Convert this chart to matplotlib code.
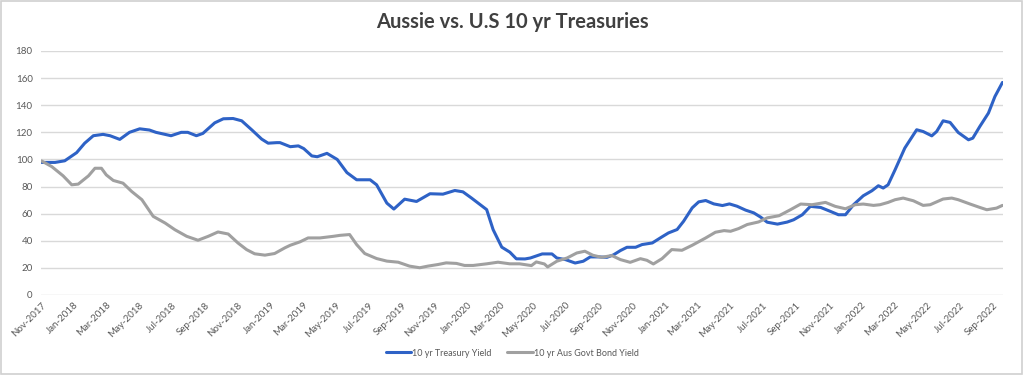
import matplotlib
matplotlib.use('Agg')
from matplotlib import pyplot as plt
import matplotlib.dates as mdates
from matplotlib.patches import Rectangle
import pandas as pd

# values (indexed, start = ~100)
us_dates = ['2017-11-02', '2017-11-27', '2017-12-15', '2018-01-06', '2018-01-21', '2018-02-06',
            '2018-02-24', '2018-03-09', '2018-03-27', '2018-04-14', '2018-05-03', '2018-05-21',
            '2018-06-02', '2018-06-30', '2018-07-19', '2018-07-31', '2018-08-16', '2018-08-28',
            '2018-09-19', '2018-10-05', '2018-10-23', '2018-11-08', '2018-11-27', '2018-12-15',
            '2018-12-27', '2019-01-12', '2019-01-18', '2019-02-06', '2019-02-21', '2019-03-03',
            '2019-03-18', '2019-03-28', '2019-04-15', '2019-05-04', '2019-05-22', '2019-06-09',
            '2019-07-04', '2019-07-16', '2019-08-04', '2019-08-17', '2019-09-06', '2019-09-28',
            '2019-10-23', '2019-11-16', '2019-12-08', '2019-12-23', '2020-01-08', '2020-02-05',
            '2020-02-17', '2020-03-04', '2020-03-19', '2020-03-31', '2020-04-16', '2020-04-26',
            '2020-05-18', '2020-06-05', '2020-06-14', '2020-06-30', '2020-07-18', '2020-08-02',
            '2020-08-15', '2020-08-30', '2020-09-15', '2020-09-27', '2020-10-10', '2020-10-22',
            '2020-11-07', '2020-11-19', '2020-12-08', '2020-12-26', '2021-01-07', '2021-01-23',
            '2021-02-04', '2021-02-20', '2021-03-04', '2021-03-17', '2021-04-01', '2021-04-17',
            '2021-04-30', '2021-05-14', '2021-05-30', '2021-06-14', '2021-06-27', '2021-07-09',
            '2021-07-28', '2021-08-15', '2021-08-27', '2021-09-12', '2021-09-27', '2021-10-16',
            '2021-11-03', '2021-11-18', '2021-12-01', '2021-12-16', '2022-01-03', '2022-01-19',
            '2022-01-31', '2022-02-09', '2022-02-18', '2022-03-03', '2022-03-21', '2022-04-12',
            '2022-04-24', '2022-05-10', '2022-05-19', '2022-05-31', '2022-06-13', '2022-06-28',
            '2022-07-17', '2022-07-25', '2022-08-07', '2022-08-23', '2022-09-04', '2022-09-18']
us_yield = [97.8, 97.8, 99.0, 105.0, 112.0, 117.5,
            118.5, 117.5, 114.8, 120.0, 122.6, 121.7,
            120.0, 117.5, 120.0, 120.0, 117.5, 119.2,
            127.0, 130.0, 130.2, 128.5, 121.7, 115.0,
            112.0, 112.4, 112.4, 109.4, 110.0, 108.0,
            102.6, 102.0, 104.5, 100.0, 90.3, 85.0,
            85.0, 81.3, 67.8, 63.4, 70.7, 69.0,
            74.7, 74.4, 77.1, 76.1, 71.5, 63.0,
            48.2, 35.3, 31.6, 26.7, 26.6, 27.3,
            30.3, 30.3, 27.3, 26.1, 23.6, 24.9,
            28.1, 28.1, 27.8, 29.6, 32.8, 35.2,
            35.2, 37.2, 38.4, 42.9, 45.8, 48.3,
            54.4, 64.3, 68.7, 69.7, 67.2, 66.0,
            67.2, 65.5, 62.6, 60.6, 57.4, 53.7,
            52.3, 53.8, 55.5, 59.2, 65.4, 64.6,
            61.7, 59.2, 59.2, 66.6, 73.2, 76.9,
            80.6, 78.9, 81.3, 92.4, 108.4, 121.9,
            120.6, 117.4, 120.6, 128.5, 127.3, 119.9,
            114.5, 115.7, 124.3, 134.2, 146.4, 156.8]

aus_dates = ['2017-11-02', '2017-11-21', '2017-12-12', '2017-12-28', '2018-01-09', '2018-01-28',
             '2018-02-09', '2018-02-21', '2018-03-02', '2018-03-15', '2018-04-02', '2018-04-18',
             '2018-05-07', '2018-05-28', '2018-06-19', '2018-07-07', '2018-07-29', '2018-08-19',
             '2018-09-07', '2018-09-25', '2018-10-14', '2018-11-01', '2018-11-17', '2018-12-02',
             '2018-12-21', '2019-01-08', '2019-01-27', '2019-02-06', '2019-02-24', '2019-03-11',
             '2019-04-02', '2019-04-27', '2019-05-09', '2019-05-27', '2019-06-09', '2019-06-24',
             '2019-07-16', '2019-08-04', '2019-08-25', '2019-09-15', '2019-10-04', '2019-10-19',
             '2019-11-07', '2019-11-22', '2019-12-11', '2019-12-26', '2020-01-11', '2020-02-05',
             '2020-02-26', '2020-03-19', '2020-04-06', '2020-04-28', '2020-05-07', '2020-05-22',
             '2020-05-28', '2020-06-14', '2020-07-03', '2020-07-21', '2020-08-05', '2020-08-20',
             '2020-09-05', '2020-09-24', '2020-10-10', '2020-10-28', '2020-11-16', '2020-11-28',
             '2020-12-10', '2020-12-26', '2021-01-13', '2021-02-01', '2021-02-20', '2021-03-17',
             '2021-04-04', '2021-04-20', '2021-05-02', '2021-05-17', '2021-06-02', '2021-06-23',
             '2021-07-09', '2021-07-31', '2021-08-21', '2021-09-09', '2021-09-30', '2021-10-25',
             '2021-11-12', '2021-12-01', '2021-12-19', '2022-01-03', '2022-01-22', '2022-02-03',
             '2022-02-18', '2022-03-03', '2022-03-18', '2022-04-06', '2022-04-24', '2022-05-07',
             '2022-05-31', '2022-06-16', '2022-06-28', '2022-07-20', '2022-08-07', '2022-08-20',
             '2022-09-07', '2022-09-18']
aus_yield = [98.9, 94.7, 87.9, 81.3, 81.8, 87.9,
             93.5, 93.5, 88.6, 84.5, 82.5, 76.4,
             70.3, 58.0, 53.1, 48.2, 43.3, 40.4,
             43.3, 46.5, 45.0, 38.4, 33.5, 30.4,
             29.4, 30.6, 34.8, 36.7, 39.2, 42.1,
             42.1, 43.3, 44.0, 44.6, 37.2, 30.6,
             26.9, 25.0, 24.2, 21.3, 20.1, 21.3,
             22.5, 23.7, 23.3, 21.8, 21.8, 23.0,
             24.2, 23.0, 23.0, 21.7, 24.4, 22.9,
             20.7, 24.9, 27.3, 31.0, 32.3, 29.3,
             27.8, 29.1, 26.1, 24.1, 26.8, 25.6,
             22.9, 26.8, 33.5, 33.0, 36.7, 42.1,
             46.3, 47.5, 47.0, 49.0, 52.0, 53.9,
             56.9, 58.5, 62.9, 67.1, 66.6, 68.3,
             65.4, 63.6, 66.6, 67.1, 66.1, 66.6,
             68.3, 70.3, 71.5, 69.5, 66.1, 66.6,
             70.8, 71.5, 70.3, 67.1, 64.6, 62.9,
             64.1, 66.1]

title = 'Aussie vs. U.S 10 yr Treasuries'
us_label = '10 yr Treasury Yield'
aus_label = '10 yr Aus Govt Bond Yield'

plt.rcParams['font.family'] = ['Lato', 'DejaVu Sans']
txt = '#595959'

fig = plt.figure(figsize=(10.24, 3.75), dpi=100)
ax = fig.add_axes([41 / 1024, 1 - 295 / 375, 962 / 1024, 244 / 375])

ax.plot(pd.to_datetime(us_dates), us_yield, color='#2E62C6', lw=2.2, label=us_label,
        solid_capstyle='round', solid_joinstyle='round')
ax.plot(pd.to_datetime(aus_dates), aus_yield, color='#A0A0A0', lw=2.2, label=aus_label,
        solid_capstyle='round', solid_joinstyle='round')

ax.set_ylim(0, 180)
ax.set_yticks(range(0, 181, 20))
ax.set_xlim(pd.Timestamp('2017-11-01'), pd.Timestamp('2022-09-19'))
ax.xaxis.set_major_locator(mdates.MonthLocator(bymonth=[1, 3, 5, 7, 9, 11]))
ax.xaxis.set_major_formatter(mdates.DateFormatter('%b-%Y'))
plt.setp(ax.get_xticklabels(), rotation=45, ha='right', rotation_mode='anchor')

ax.grid(axis='y', color='#D9D9D9', lw=1)
ax.set_axisbelow(True)
for s in ax.spines.values():
    s.set_visible(False)
ax.tick_params(length=0, labelsize=7, colors=txt, pad=6)
ax.tick_params(axis='x', pad=4)

fig.text(0.5, 1 - 22 / 375, title, ha='center', va='center', fontsize=14.5,
         fontweight='bold', color='#404040')

fig.legend(loc='center', bbox_to_anchor=(0.5, 1 - 353 / 375), ncol=2, frameon=False,
           fontsize=6.5, labelcolor=txt, handlelength=2.8, handletextpad=0.1,
           columnspacing=1.8)

fig.patches.append(Rectangle((0.001, 0.002), 0.997, 0.995, transform=fig.transFigure,
                             fill=False, edgecolor='#D0D0D0', lw=1.2))

fig.savefig('out.png', dpi=100)
